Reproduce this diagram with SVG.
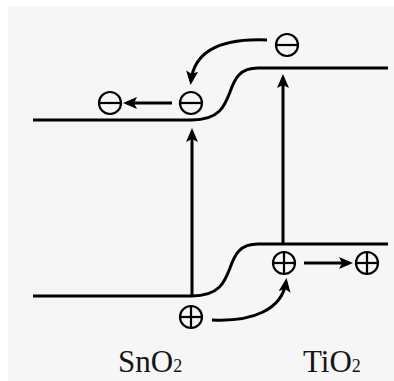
<svg xmlns="http://www.w3.org/2000/svg" width="394" height="381" viewBox="0 0 394 381">
  <style>
    .band { fill: none; stroke: #000; stroke-width: 3; }
    .conn { fill: none; stroke: #000; stroke-width: 3; }
    .carrier { fill: none; stroke: #000; stroke-width: 2.2; }
    .label { font-family: "Liberation Serif", "Times New Roman", serif; font-size: 31px; fill: #151515; }
    .sub { font-size: 18px; }
  </style>
  <defs>
    <marker id="arrow" viewBox="0 0 14 12" refX="10" refY="6" markerWidth="14" markerHeight="12" markerUnits="userSpaceOnUse" orient="auto">
      <path d="M0,0 L14,6 L0,12 L3,6 z" fill="#000"/>
    </marker>
  </defs>
  <rect x="0" y="0" width="394" height="381" fill="#fff"/>
  <rect x="8" y="6" width="386" height="375" fill="#f6f6f6"/>

  <g id="bands">
    <path class="band" d="M33,120 H192 C220,120 225,105 230,92 C235,78 240,68 258,68 H388"/>
    <path class="band" d="M33,296 H192 C220,296 225,281 230,268 C235,254 240,244 258,244 H388"/>
  </g>

  <g id="connectors">
    <line class="conn" x1="192" y1="296" x2="192" y2="132" marker-end="url(#arrow)"/>
    <line class="conn" x1="283" y1="244" x2="283" y2="78" marker-end="url(#arrow)"/>
    <path class="conn" d="M267,40 Q196,37 191,81" marker-end="url(#arrow)"/>
    <line class="conn" x1="172" y1="103" x2="127" y2="103" marker-end="url(#arrow)"/>
    <path class="conn" d="M212,320 C252,322 282,310 286,282" marker-end="url(#arrow)"/>
    <line class="conn" x1="304" y1="263" x2="349" y2="263" marker-end="url(#arrow)"/>
  </g>

  <g id="e-top">
    <circle class="carrier" cx="287" cy="45" r="11"/>
    <line class="carrier" x1="276" y1="45" x2="298" y2="45"/>
  </g>
  <g id="e-mid">
    <circle class="carrier" cx="191" cy="103" r="11"/>
    <line class="carrier" x1="180" y1="103" x2="202" y2="103"/>
  </g>
  <g id="e-left">
    <circle class="carrier" cx="110" cy="103" r="11"/>
    <line class="carrier" x1="99" y1="103" x2="121" y2="103"/>
  </g>
  <g id="h-bottom">
    <circle class="carrier" cx="191" cy="317" r="11"/>
    <line class="carrier" x1="180" y1="317" x2="202" y2="317"/>
    <line class="carrier" x1="191" y1="306" x2="191" y2="328"/>
  </g>
  <g id="h-mid">
    <circle class="carrier" cx="284" cy="263" r="11"/>
    <line class="carrier" x1="273" y1="263" x2="295" y2="263"/>
    <line class="carrier" x1="284" y1="252" x2="284" y2="274"/>
  </g>
  <g id="h-right">
    <circle class="carrier" cx="367" cy="263" r="11"/>
    <line class="carrier" x1="356" y1="263" x2="378" y2="263"/>
    <line class="carrier" x1="367" y1="252" x2="367" y2="274"/>
  </g>

  <g id="label-sno2">
    <text class="label" x="118" y="372">SnO<tspan class="sub">2</tspan></text>
  </g>
  <g id="label-tio2">
    <text class="label" x="303" y="372">TiO<tspan class="sub">2</tspan></text>
  </g>
</svg>
